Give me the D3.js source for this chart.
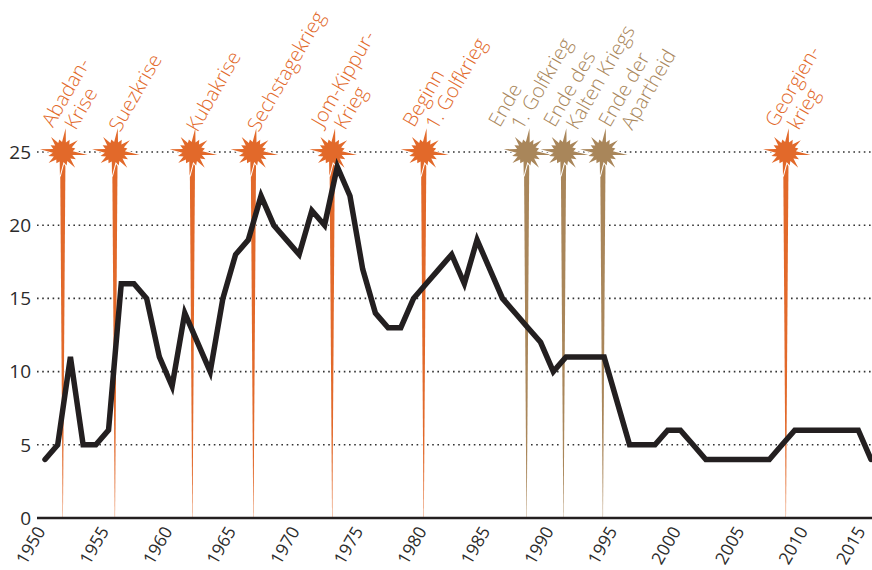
<!DOCTYPE html>
<html>
<head>
<meta charset="utf-8">
<script src="https://cdn.jsdelivr.net/npm/d3@7"></script>
<style>
  html, body { margin: 0; padding: 0; background: #fff; }
  svg { display: block; font-family: "Open Sans", "Noto Sans", sans-serif; }
</style>
</head>
<body>
<svg id="chart" width="872" height="570"></svg>
<script>
// ---- data ----
const years = d3.range(1950, 2016);
const values = [
  4, 5, 11, 5, 5, 6, 16, 16, 15, 11,
  9, 14, 12, 10, 15, 18, 19, 22, 20, 19,
  18, 21, 20, 24, 22, 17, 14, 13, 13, 15,
  16, 17, 18, 16, 19, 17, 15, 14, 13, 12,
  10, 11, 11, 11, 11, 8, 5, 5, 5, 6,
  6, 5, 4, 4, 4, 4, 4, 4, 5, 6,
  6, 6, 6, 6, 6, 4
];
const yTicks = [0, 5, 10, 15, 20, 25];
const xTicks = [1950, 1955, 1960, 1965, 1970, 1975, 1980, 1985, 1990, 1995, 2000, 2005, 2010, 2015];

const eventYears = [1951.4, 1955.5, 1961.6, 1966.4, 1972.6, 1979.8, 1987.9, 1990.8, 1993.9, 2008.3];
const eventLabels = [
  ["Abadan-", "Krise"],
  ["Suezkrise"],
  ["Kubakrise"],
  ["Sechstagekrieg"],
  ["Jom-Kippur-", "Krieg"],
  ["Beginn", "1. Golfkrieg"],
  ["Ende", "1. Golfkrieg"],
  ["Ende des", "Kalten Kriegs"],
  ["Ende der", "Apartheid"],
  ["Georgien-", "krieg"]
];
const eventKinds = ["crisis", "crisis", "crisis", "crisis", "crisis", "crisis", "end", "end", "end", "crisis"];
const eventLevel = 25;

// ---- styles ----
const colors = { crisis: "#E2692A", end: "#A9865A" };
const svg = d3.select("#chart");
const x = d3.scaleLinear().domain([1950, 2015]).range([45, 871]);
const y = d3.scaleLinear().domain([0, 25]).range([518, 152]);
const gridX0 = 37, gridX1 = 872;

// gridlines
svg.append("g").selectAll("line")
  .data(yTicks.filter(d => d > 0))
  .join("line")
  .attr("x1", gridX0).attr("x2", gridX1)
  .attr("y1", d => y(d)).attr("y2", d => y(d))
  .attr("stroke", "#333").attr("stroke-width", 1.6)
  .attr("stroke-dasharray", "1.6,3.6");

// y labels
svg.append("g").selectAll("text")
  .data(yTicks)
  .join("text")
  .attr("x", 31).attr("y", d => y(d))
  .attr("dy", "0.36em")
  .attr("text-anchor", "end")
  .attr("font-size", 19)
  .attr("fill", "#2b2b2b")
  .text(d => d);

// x labels
svg.append("g").selectAll("text")
  .data(xTicks)
  .join("text")
  .attr("transform", d => `translate(${Math.min(x(d) + 1, 866)},${531}) rotate(-60)`)
  .attr("text-anchor", "end")
  .attr("font-size", 17.5)
  .attr("fill", "#2b2b2b")
  .text(d => d);

// needles
const needleTop = y(eventLevel), needleBottom = y(0);
const ev = eventYears.map((yr, i) => ({ yr, lines: eventLabels[i], kind: eventKinds[i], i }));
svg.append("g").selectAll("path")
  .data(ev)
  .join("path")
  .attr("d", d => {
    const cx = x(d.yr);
    return `M${cx - 2.7},${needleTop} L${cx + 2.7},${needleTop} L${cx + 0.15},${needleBottom} L${cx - 0.15},${needleBottom} Z`;
  })
  .attr("fill", d => colors[d.kind])
  .attr("stroke", "#fff").attr("stroke-width", 1.6)
  .attr("paint-order", "stroke");

// bursts
const spikes = [24, 14, 19, 13, 25, 15, 20, 14, 24, 13, 18, 15, 23, 14, 19, 13];
const inner = 10;
function burstPath(cx, cy) {
  const n = spikes.length;
  const pts = [];
  for (let k = 0; k < n; k++) {
    const a0 = (k / n) * 2 * Math.PI - Math.PI / 2 + 0.12;
    const a1 = ((k + 0.5) / n) * 2 * Math.PI - Math.PI / 2 + 0.12;
    pts.push([cx + spikes[k] * Math.cos(a0), cy + spikes[k] * Math.sin(a0)]);
    pts.push([cx + inner * Math.cos(a1), cy + inner * Math.sin(a1)]);
  }
  return "M" + pts.map(p => p[0].toFixed(2) + "," + p[1].toFixed(2)).join("L") + "Z";
}
svg.append("g").selectAll("path")
  .data(ev)
  .join("path")
  .attr("d", d => burstPath(x(d.yr), y(eventLevel)))
  .attr("fill", d => colors[d.kind])
  .attr("stroke", "#fff").attr("stroke-width", 2)
  .attr("stroke-linejoin", "round")
  .attr("paint-order", "stroke");

// baseline
svg.append("line")
  .attr("x1", gridX0).attr("x2", gridX1)
  .attr("y1", y(0)).attr("y2", y(0))
  .attr("stroke", "#231f20").attr("stroke-width", 2.6);

// main line
const line = d3.line().x((d, i) => x(years[i])).y(d => y(d)).curve(d3.curveLinear);
svg.append("path")
  .datum(values)
  .attr("d", line)
  .attr("fill", "none")
  .attr("stroke", "#231f20")
  .attr("stroke-width", 5.5)
  .attr("stroke-linejoin", "miter")
  .attr("stroke-miterlimit", 6)
  .attr("stroke-linecap", "round");

// label layout: spread crowded labels
const minGap = 55;
ev.forEach(d => { d.lx = d.lines.length > 1 ? x(d.yr) + 13 : x(d.yr) + 5; });
let clusters = ev.map(d => ({ items: [d], mean: d.lx }));
let merged = true;
while (merged) {
  merged = false;
  for (let k = 0; k < clusters.length - 1; k++) {
    const a = clusters[k], b = clusters[k + 1];
    const aEnd = a.mean + (a.items.length - 1) * minGap / 2;
    const bStart = b.mean - (b.items.length - 1) * minGap / 2;
    if (bStart - aEnd < minGap * 0.8 && a.items[a.items.length - 1].lines.length > 1 && b.items[0].lines.length > 1) {
      const items = a.items.concat(b.items);
      clusters.splice(k, 2, { items, mean: d3.mean(items, d => d.lx) });
      merged = true;
      break;
    }
  }
}
clusters.forEach(c => {
  const n = c.items.length;
  if (n > 1) c.items.forEach((d, j) => { d.lx = c.mean + (j - (n - 1) / 2) * minGap; });
});

const lab = svg.append("g").selectAll("g")
  .data(ev)
  .join("g")
  .attr("transform", d => `translate(${d.lx},${d.lines.length > 1 ? 131 : 133}) rotate(-60)`)
  .attr("fill", d => colors[d.kind])
  .attr("font-size", 20)
  .attr("font-weight", 300);
lab.each(function(d) {
  const g = d3.select(this);
  if (d.lines.length === 1) {
    g.append("text").attr("x", 0).attr("y", 0).text(d.lines[0]);
  } else {
    g.append("text").attr("x", -9).attr("y", -21).text(d.lines[0]);
    g.append("text").attr("x", 0).attr("y", 0).text(d.lines[1]);
  }
});
</script>
</body>
</html>
